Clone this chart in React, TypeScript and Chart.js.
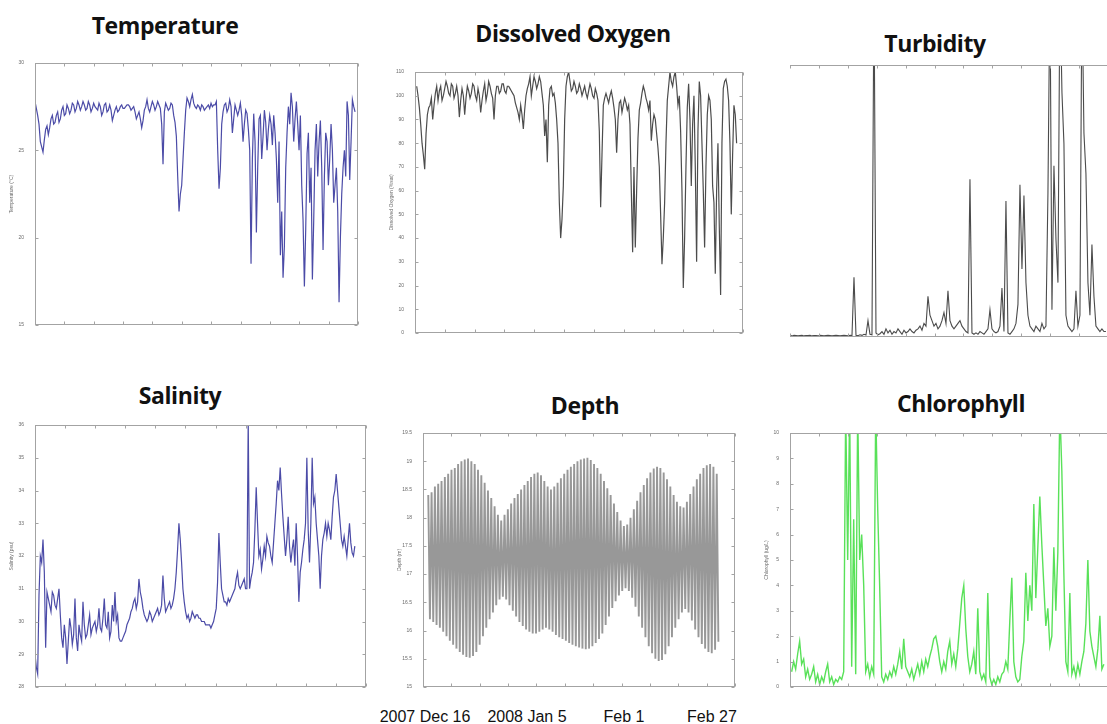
import React, { useEffect, useRef } from "react";
import { Chart, registerables } from "chart.js";

Chart.register(...registerables);

// ---- shared time axis (days since start of deployment) ----
const DAY_MIN = 0;
const DAY_MAX = 77;
const DAY_STEP = 7;

const panelTitles = ["Temperature", "Dissolved Oxygen", "Turbidity", "Salinity", "Depth", "Chlorophyll"];
const yTitles = ["Temperature (°C)", "Dissolved Oxygen (%sat)", "", "Salinity (psu)", "Depth (m)", "Chlorophyll (ug/L)"];
const dateLabels = ["2007 Dec 16", "2008 Jan 5", "Feb 1", "Feb 27"];

// ---- series values ----
const temperature = [
  27.8, 27.0, 25.5, 24.9, 26.2, 25.9, 26.8, 26.5, 27.0, 26.6,
  27.3, 27.0, 27.6, 27.1, 27.7, 27.2, 27.8, 27.3, 27.8, 27.3,
  27.8, 27.2, 27.7, 27.4, 27.7, 27.0, 27.6, 27.2, 27.6, 26.7,
  27.3, 27.2, 27.5, 27.4, 27.5, 27.6, 27.3, 27.5, 26.8, 27.2,
  26.3, 27.3, 27.9, 27.2, 27.8, 27.3, 27.8, 27.4, 24.2, 27.7,
  27.3, 27.7, 27.0, 25.8, 21.5, 23.0, 26.0, 28.0, 27.5, 28.2,
  27.5, 27.6, 27.3, 27.5, 27.4, 27.6, 27.7, 27.6, 27.8, 22.8,
  26.5, 27.6, 27.2, 27.9, 26.0, 27.6, 27.0, 27.7, 25.5, 27.3,
  26.2, 18.5, 27.1, 20.3, 26.8, 24.5, 27.3, 25.0, 27.0, 25.3,
  26.0, 22.0, 19.0, 17.7, 24.0, 27.5, 28.3, 25.5, 27.8, 25.0,
  23.0, 17.2, 24.8, 22.0, 17.6, 25.0, 23.5, 26.7, 19.3, 26.0,
  23.0, 26.5, 22.0, 24.0, 16.3, 22.5, 25.0, 27.8, 23.3, 27.9,
  27.2,
];
// readings half-way between consecutive temperature samples
const temperatureMid = [
  27.4, 26.5, 25.2, 25.6, 26.4, 26.3, 27.0, 26.6, 27.2, 26.8,
  27.5, 27.1, 27.4, 27.3, 27.6, 27.4, 27.6, 27.5, 27.6, 27.4,
  27.6, 27.4, 27.5, 27.3, 27.5, 27.2, 27.7, 27.3, 27.3, 27.0,
  27.5, 27.3, 27.6, 27.4, 27.6, 27.5, 27.4, 27.2, 27.0, 26.8,
  26.7, 27.5, 27.4, 27.5, 27.6, 27.5, 27.6, 26.5, 27.2, 27.5,
  27.4, 27.6, 26.6, 23.5, 22.5, 24.5, 27.3, 27.8, 27.9, 27.7,
  27.4, 27.5, 27.6, 27.3, 27.5, 27.4, 27.5, 27.6, 25.0, 24.0,
  27.2, 27.7, 27.4, 27.5, 26.8, 27.3, 27.3, 27.0, 26.5, 27.1,
  25.0, 24.5, 25.5, 24.0, 27.0, 25.8, 26.6, 26.2, 26.5, 27.0,
  24.5, 25.5, 21.5, 19.5, 26.0, 26.5, 27.5, 26.8, 26.5, 27.0,
  21.0, 20.5, 26.0, 24.0, 21.0, 26.5, 25.5, 24.0, 23.5, 25.5,
  24.5, 25.0, 23.0, 21.5, 20.0, 24.0, 23.5, 27.0, 25.5, 27.5,
];

const dissolvedOxygen = [
  104, 95, 80, 69, 92, 96, 90, 101, 98, 104,
  100, 106, 101, 105, 99, 104, 91, 103, 92, 104,
  99, 105, 100, 103, 93, 102, 98, 106, 101, 90,
  104, 101, 105, 102, 104, 103, 101, 97, 93, 96,
  86, 100, 105, 100, 108, 103, 108, 101, 83, 72,
  103, 100, 97, 80, 40, 62, 104, 110, 102, 106,
  101, 105, 100, 104, 99, 105, 100, 103, 98, 53,
  96, 101, 97, 102, 95, 76, 97, 93, 99, 94,
  88, 34, 36, 82, 97, 104, 99, 94, 81, 92,
  84, 70, 29, 55, 98, 110, 104, 110, 96, 85,
  19, 70, 105, 62, 100, 30, 106, 80, 36, 92,
  98, 62, 25, 80, 16, 103, 107, 98, 50, 96,
  80,
];
const dissolvedOxygenMid = [
  100, 88, 75, 84, 95, 99, 96, 104, 102, 98,
  103, 104, 100, 104, 101, 100, 98, 100, 99, 102,
  101, 104, 98, 100, 98, 105, 101, 104, 99, 100,
  104, 102, 105, 101, 104, 102, 100, 95, 90, 92,
  94, 103, 108, 104, 106, 105, 106, 96, 90, 96,
  104, 101, 90, 55, 48, 90, 108, 106, 103, 104,
  102, 103, 102, 101, 102, 103, 99, 101, 85, 75,
  99, 99, 100, 99, 90, 90, 98, 96, 97, 96,
  60, 70, 60, 94, 101, 102, 97, 98, 88, 90,
  78, 50, 40, 80, 104, 106, 108, 104, 100, 60,
  40, 95, 90, 88, 70, 85, 100, 60, 70, 100,
  90, 55, 60, 45, 80, 106, 104, 80, 75, 92,
];

const turbidity = [
  0.5, 0.4, 0.6, 0.5, 0.4, 0.5, 0.6, 0.4, 0.5, 0.5,
  0.6, 0.4, 0.5, 0.5, 0.4, 0.6, 0.5, 0.4, 0.5, 0.6,
  0.5, 0.4, 0.5, 0.6, 0.5, 0.4, 0.5, 0.6, 0.5, 0.4,
  0.6, 0.5, 22, 0.6, 0.5, 0.8, 0.6, 1.0, 0.7, 6,
  1.0, 0.8, 130, 1.5, 0.8, 1.2, 2, 1, 3, 1.5,
  2.5, 1, 2, 1.5, 3, 2, 1, 2.5, 1.5, 2,
  3, 2, 1.5, 2.5, 3, 4, 2.5, 5, 4, 15,
  8, 6, 4, 5, 3, 4, 6, 9, 5, 17,
  6, 4, 3, 4, 5, 6, 4, 3, 2, 1.5,
  58, 1.5, 1, 1.5, 1, 2, 1.5, 1, 2, 3,
  10, 3, 2, 1.5, 2, 4, 18, 2, 50, 1.5,
  1, 2, 3, 5, 12, 56, 25, 52, 20, 8,
  4, 3, 2, 4, 3, 2, 5, 3, 4, 53,
  130, 10, 63, 36, 20, 130, 90, 71, 8, 4,
  3, 2, 3, 17, 4, 8, 130, 75, 60, 20,
  8, 34, 15, 4, 3, 2, 3, 2, 2,
];

const salinity = [
  29.0, 28.4, 32.0, 32.5, 29.2, 30.7, 30.3, 30.8, 30.4, 31.0,
  29.5, 29.9, 28.7, 30.1, 29.3, 30.7, 29.1, 29.6, 30.6, 29.5,
  29.9, 29.6, 29.9, 29.7, 30.4, 29.7, 30.7, 29.8, 29.5, 30.5,
  30.9, 30.2, 29.4, 29.5, 29.7, 30.0, 30.3, 30.6, 30.4, 31.3,
  30.7, 30.2, 30.0, 30.3, 30.0, 30.2, 30.4, 30.3, 31.4, 30.3,
  30.5, 30.4, 30.7, 31.5, 33.0, 31.8, 30.6, 30.1, 30.0, 30.3,
  30.1, 30.2, 30.1, 30.0, 29.9, 29.9, 29.8, 30.0, 30.4, 32.7,
  31.0, 30.6, 30.5, 30.6, 30.8, 31.0, 31.5, 31.0, 31.2, 31.0,
  36.2, 31.3, 31.8, 34.1, 32.0, 31.6, 32.3, 32.6, 32.3, 31.8,
  33.0, 34.3, 34.7, 33.2, 32.0, 33.2, 31.8, 32.5, 33.0, 30.6,
  31.8, 32.5, 35.0, 31.8, 35.0, 33.8, 32.5, 31.0, 32.5, 33.0,
  33.0, 32.5, 33.8, 34.5, 33.5, 32.5, 32.6, 32.0, 33.0, 32.1,
  32.3,
];
const salinityMid = [
  28.6, 30.8, 31.8, 31.5, 30.9, 30.5, 30.9, 30.5, 30.7, 30.2,
  29.2, 29.5, 29.4, 29.8, 29.6, 29.5, 29.9, 29.4, 29.9, 29.6,
  30.2, 29.8, 30.0, 29.9, 29.8, 30.1, 29.9, 30.3, 29.7, 30.0,
  30.0, 29.5, 29.4, 29.6, 29.9, 30.1, 30.4, 30.7, 30.6, 30.9,
  30.4, 30.1, 30.1, 30.2, 30.1, 30.3, 30.2, 30.5, 30.7, 30.4,
  30.6, 30.5, 31.0, 32.2, 32.5, 31.0, 30.3, 30.2, 30.1, 30.2,
  30.2, 30.1, 30.0, 30.0, 29.9, 29.9, 29.9, 30.2, 31.2, 31.8,
  30.8, 30.6, 30.7, 30.7, 30.9, 31.3, 31.1, 31.1, 31.3, 31.0,
  31.0, 31.5, 32.8, 33.0, 32.2, 31.9, 32.0, 32.4, 32.0, 32.4,
  33.6, 34.0, 33.9, 32.6, 32.5, 32.3, 32.2, 31.7, 32.0, 31.5,
  32.2, 33.0, 32.8, 33.0, 33.6, 33.0, 32.0, 32.0, 32.7, 32.6,
  32.8, 33.2, 34.0, 34.0, 33.0, 32.3, 32.3, 32.5, 32.4, 32.0,
];

// high-water and low-water depth of each tidal cycle
const depthHigh = [
  18.40, 18.45, 18.55, 18.60, 18.65, 18.72, 18.78, 18.85, 18.88, 18.95,
  19.00, 19.03, 19.05, 19.00, 18.95, 18.85, 18.75, 18.62, 18.48, 18.35,
  18.20, 18.05, 17.95, 18.05, 18.15, 18.25, 18.35, 18.42, 18.50, 18.58,
  18.65, 18.72, 18.78, 18.80, 18.75, 18.65, 18.55, 18.50, 18.55, 18.62,
  18.70, 18.78, 18.85, 18.90, 18.95, 19.00, 19.03, 19.05, 19.06, 19.02,
  18.95, 18.88, 18.78, 18.65, 18.52, 18.40, 18.25, 18.10, 17.95, 17.85,
  17.88, 18.00, 18.15, 18.30, 18.45, 18.58, 18.70, 18.80, 18.87, 18.90,
  18.88, 18.80, 18.68, 18.55, 18.40, 18.28, 18.20, 18.18, 18.28, 18.42,
  18.55, 18.68, 18.78, 18.88, 18.93, 18.95, 18.90, 18.78,
];
const depthLow = [
  16.20, 16.15, 16.10, 16.05, 15.98, 15.90, 15.82, 15.75, 15.68, 15.62,
  15.57, 15.53, 15.52, 15.55, 15.62, 15.75, 15.90, 16.05, 16.20, 16.32,
  16.45, 16.55, 16.60, 16.55, 16.45, 16.35, 16.25, 16.15, 16.08, 16.02,
  15.98, 15.95, 15.95, 15.98, 16.02, 16.05, 16.02, 15.98, 15.92, 15.88,
  15.85, 15.82, 15.78, 15.75, 15.72, 15.70, 15.68, 15.67, 15.68, 15.72,
  15.78, 15.85, 15.95, 16.10, 16.25, 16.40, 16.52, 16.62, 16.70, 16.75,
  16.70, 16.58, 16.42, 16.25, 16.05, 15.88, 15.72, 15.60, 15.50, 15.46,
  15.48, 15.58, 15.72, 15.88, 16.05, 16.20, 16.32, 16.38, 16.32, 16.18,
  16.02, 15.88, 15.76, 15.68, 15.62, 15.60, 15.66, 15.80,
];

const chlorophyll = [
  0.6, 1.0, 0.7, 1.3, 1.8, 0.9, 1.1, 0.4, 0.7, 0.3,
  0.5, 0.8, 0.2, 0.5, 0.1, 0.4, 0.2, 0.6, 0.9, 0.2,
  0.4, 0.1, 0.3, 0.2, 0.4, 0.3, 0.6, 11, 5.0, 11,
  0.8, 6.6, 0.5, 11, 5.0, 6.0, 4.0, 0.6, 0.9, 0.4,
  0.8, 0.5, 11, 7.0, 3.9, 0.4, 0.2, 0.5, 0.3, 0.6,
  0.4, 0.8, 0.5, 0.9, 1.4, 0.7, 1.9, 0.8, 0.6, 0.4,
  0.7, 0.3, 0.6, 0.9, 0.5, 1.0, 0.6, 1.1, 0.8, 1.2,
  1.5, 1.9, 2.0, 1.6, 1.0, 0.6, 1.0, 0.7, 1.4, 1.8,
  0.9, 1.3, 0.8, 1.5, 2.5, 3.5, 4.0, 2.3, 1.2, 0.6,
  0.9, 1.4, 0.5, 3.1, 0.6, 0.3, 0.5, 0.2, 3.7, 0.4,
  0.1, 0.3, 0.1, 0.4, 0.2, 0.5, 0.6, 1.0, 0.7, 2.6,
  4.3, 1.0, 0.4, 0.2, 0.3, 1.2, 1.8, 4.5, 2.6, 4.0,
  3.0, 7.2, 3.5, 5.5, 7.5, 5.6, 4.0, 2.4, 3.1, 1.6,
  2.0, 5.5, 3.0, 5.3, 11, 8.5, 4.5, 1.0, 0.6, 3.7,
  0.5, 0.8, 0.4, 0.9, 0.5, 1.0, 1.4, 2.5, 5.0, 2.2,
  1.6, 1.2, 0.8, 1.5, 2.8, 0.7, 0.9,
];

// first and last sample time (days) of each record
const temperatureSpan = [0, 76.3];
const oxygenSpan = [0.4, 75.5];
const turbiditySpan = [0, 76.5];
const salinitySpan = [0, 74.4];
const depthSpan = [1.3, 72.9];
const chlorophyllSpan = [0.4, 76.0];

// y-axis ranges [min, max, step]
const temperatureAxis = [15, 30, 5];
const oxygenAxis = [0, 110, 10];
const turbidityAxis = [0, 100, 20];
const salinityAxis = [28, 36, 1];
const depthAxis = [15, 19.5, 0.5];
const chlorophyllAxis = [0, 10, 1];

// merge main samples with the readings taken between them, in time order
function inTimeOrder(main: number[], between: number[]): number[] {
  const out: number[] = [];
  main.forEach((v, i) => {
    out.push(v);
    if (i < between.length) out.push(between[i]);
  });
  return out;
}
const temperatureSeries = inTimeOrder(temperature, temperatureMid);
const oxygenSeries = inTimeOrder(dissolvedOxygen, dissolvedOxygenMid);
const salinitySeries = inTimeOrder(salinity, salinityMid);
// high water followed by low water of each tidal cycle
const depthSeries = inTimeOrder(depthHigh, depthLow);

const boxPlugin = {
  id: "matlabBox",
  afterDatasetsDraw(chart: any, _args: any, opts: any) {
    const { ctx, chartArea: a, scales } = chart;
    const L = Math.round(a.left) + 0.5;
    const R = Math.round(a.right) - 0.5;
    const T = Math.round(a.top) + 0.5;
    const B = Math.round(a.bottom) - 0.5;
    const tl = 3;
    ctx.save();
    ctx.strokeStyle = opts.color || "#a3a3a3";
    ctx.lineWidth = 1;
    ctx.beginPath();
    if (opts.top) { ctx.moveTo(L - 0.5, T); ctx.lineTo(R + 0.5, T); }
    if (opts.bottom) { ctx.moveTo(L - 0.5, B); ctx.lineTo(R + 0.5, B); }
    if (opts.left) { ctx.moveTo(L, T); ctx.lineTo(L, B); }
    if (opts.right) { ctx.moveTo(R, T); ctx.lineTo(R, B); }
    const xs = scales.x;
    for (const t of xs.ticks) {
      const px = Math.round(xs.getPixelForValue(t.value)) + 0.5;
      if (opts.top) { ctx.moveTo(px, T); ctx.lineTo(px, T + tl); }
      if (opts.bottom) { ctx.moveTo(px, B); ctx.lineTo(px, B - tl); }
    }
    const ys = scales.y;
    for (const t of ys.ticks) {
      const py = Math.round(ys.getPixelForValue(t.value)) + 0.5;
      if (opts.left) { ctx.moveTo(L, py); ctx.lineTo(L + tl, py); }
      if (opts.right) { ctx.moveTo(R, py); ctx.lineTo(R - tl, py); }
    }
    ctx.stroke();
    ctx.restore();
  },
};

type PanelProps = {
  l: number; t: number; r: number; b: number;
  values: number[];
  span: number[];
  axis: number[];
  yTitle: string;
  color: string;
  lineWidth?: number;
  showY: boolean;
  sides: { top: boolean; bottom: boolean; left: boolean; right: boolean };
};

function Panel(p: PanelProps) {
  const ref = useRef<HTMLCanvasElement>(null);
  const axisW = p.showY ? 26 : 0;
  const padT = 6;
  const padB = 6;
  const padR = 4;
  const cw = p.r - p.l + axisW + padR;
  const ch = p.b - p.t + padT + padB;

  useEffect(() => {
    const n = p.values.length;
    const data = p.values.map((v, i) => ({
      x: p.span[0] + (i * (p.span[1] - p.span[0])) / (n - 1),
      y: v,
    }));
    const chart = new Chart(ref.current as HTMLCanvasElement, {
      type: "line",
      data: {
        datasets: [
          {
            data,
            borderColor: p.color,
            borderWidth: p.lineWidth ?? 1,
            pointRadius: 0,
            tension: 0,
            fill: false,
            borderJoinStyle: "miter",
          },
        ],
      },
      options: {
        responsive: false,
        animation: false,
        events: [],
        layout: { padding: { top: padT, right: padR, bottom: padB, left: 0 } },
        plugins: {
          legend: { display: false },
          tooltip: { enabled: false },
          title: { display: false },
          matlabBox: { ...p.sides, color: "#a3a3a3" },
        } as any,
        scales: {
          x: {
            type: "linear",
            min: DAY_MIN,
            max: DAY_MAX,
            ticks: { display: false, stepSize: DAY_STEP },
            grid: { display: false },
            border: { display: false },
            afterFit: (s: any) => { s.height = 0; },
          },
          y: {
            type: "linear",
            display: p.showY,
            min: p.axis[0],
            max: p.axis[1],
            ticks: {
              stepSize: p.axis[2],
              font: { size: 5, family: "Liberation Sans, Arial, sans-serif" },
              color: "#6a6a6a",
              padding: 3,
              callback: (v: any) => String(v),
            },
            grid: { display: false },
            border: { display: false },
            title: {
              display: !!p.yTitle,
              text: p.yTitle,
              font: { size: 5, family: "Liberation Sans, Arial, sans-serif" },
              color: "#6a6a6a",
              padding: { top: 0, bottom: 0 },
            },
            afterFit: (s: any) => { s.width = axisW; },
          },
        },
      },
      plugins: [boxPlugin as any],
    });
    return () => chart.destroy();
  }, []);

  return (
    <canvas
      ref={ref}
      width={cw}
      height={ch}
      style={{ position: "absolute", left: p.l - axisW, top: p.t - padT, display: "block", filter: "blur(0.35px)" }}
    />
  );
}

const titleStyle: React.CSSProperties = {
  position: "absolute",
  transform: "translate(-50%, -50%)",
  fontFamily: "'Open Sans', Lato, sans-serif",
  fontWeight: 700,
  fontSize: 23,
  lineHeight: 1,
  color: "#111",
  whiteSpace: "nowrap",
  letterSpacing: -0.4,
};

const dateStyle: React.CSSProperties = {
  position: "absolute",
  transform: "translate(-50%, -50%)",
  fontFamily: "'Liberation Sans', Arial, sans-serif",
  fontSize: 16,
  lineHeight: 1,
  color: "#111",
  whiteSpace: "nowrap",
};

export default function App() {
  const full = { top: true, bottom: true, left: true, right: true };
  return (
    <div style={{ position: "fixed", left: 0, top: 0, width: 1107, height: 724, overflow: "hidden", background: "#fff" }}>
      <div style={{ ...titleStyle, left: 165, top: 25 }}>{panelTitles[0]}</div>
      <div style={{ ...titleStyle, left: 573, top: 33 }}>{panelTitles[1]}</div>
      <div style={{ ...titleStyle, left: 935, top: 43 }}>{panelTitles[2]}</div>
      <div style={{ ...titleStyle, left: 180, top: 395 }}>{panelTitles[3]}</div>
      <div style={{ ...titleStyle, left: 585, top: 405 }}>{panelTitles[4]}</div>
      <div style={{ ...titleStyle, left: 961, top: 403 }}>{panelTitles[5]}</div>

      <Panel l={35} t={63} r={358} b={325} values={temperatureSeries} span={temperatureSpan} axis={temperatureAxis}
        yTitle={yTitles[0]} color="rgba(30,30,145,0.8)" lineWidth={1.2} showY sides={full} />
      <Panel l={415} t={72} r={743} b={333} values={oxygenSeries} span={oxygenSpan} axis={oxygenAxis}
        yTitle={yTitles[1]} color="rgba(25,25,25,0.78)" lineWidth={1.2} showY sides={full} />
      <Panel l={790} t={65} r={1108} b={337} values={turbidity} span={turbiditySpan} axis={turbidityAxis}
        yTitle={yTitles[2]} color="rgba(30,30,30,0.8)" lineWidth={1.1} showY={false}
        sides={{ top: true, bottom: true, left: false, right: false }} />
      <Panel l={35} t={425} r={366} b={687} values={salinitySeries} span={salinitySpan} axis={salinityAxis}
        yTitle={yTitles[3]} color="rgba(30,30,145,0.8)" lineWidth={1.2} showY sides={full} />
      <Panel l={423} t={433} r={735} b={687} values={depthSeries} span={depthSpan} axis={depthAxis}
        yTitle={yTitles[4]} color="#989898" lineWidth={1.9} showY sides={full} />
      <Panel l={790} t={433} r={1108} b={687} values={chlorophyll} span={chlorophyllSpan} axis={chlorophyllAxis}
        yTitle={yTitles[5]} color="rgba(60,220,60,0.85)" lineWidth={1.4} showY
        sides={{ top: true, bottom: true, left: true, right: false }} />

      <div style={{ ...dateStyle, left: 425, top: 717 }}>{dateLabels[0]}</div>
      <div style={{ ...dateStyle, left: 527, top: 717 }}>{dateLabels[1]}</div>
      <div style={{ ...dateStyle, left: 624, top: 717 }}>{dateLabels[2]}</div>
      <div style={{ ...dateStyle, left: 712, top: 717 }}>{dateLabels[3]}</div>
    </div>
  );
}
